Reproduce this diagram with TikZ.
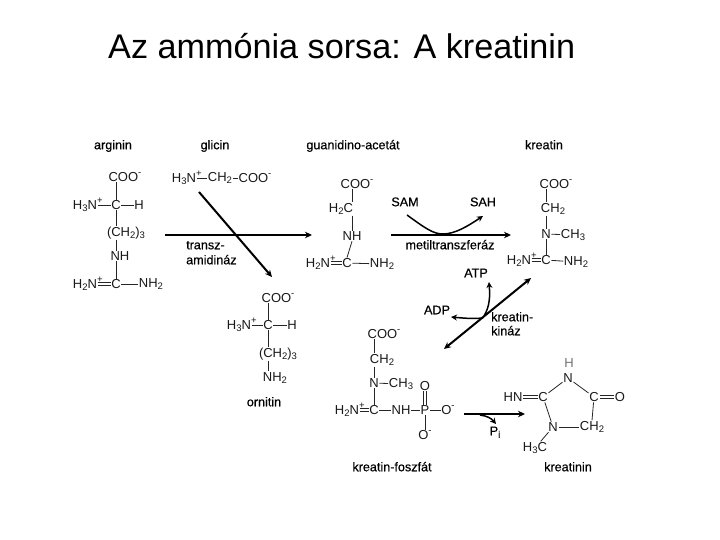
\documentclass[tikz,border=0pt]{standalone}
\usepackage{fontspec}
\setmainfont{Liberation Sans}
\newfontfamily\lblfont[FakeBold=0.5]{Liberation Sans}
\usetikzlibrary{arrows.meta}
\newcommand{\sbs}[1]{\raisebox{-2.5pt}{\fontsize{9.5}{9.5}\selectfont #1}}
\newcommand{\pls}{\rlap{\raisebox{6pt}{\fontsize{9.5}{9.5}\selectfont +}}}
\newcommand{\mns}{\raisebox{6pt}{\fontsize{9.5}{9.5}\selectfont -}}
\tikzset{
  atom/.style={inner sep=0.6pt,font=\fontsize{13}{13}\selectfont,text=black!90},
  lbl/.style={inner sep=0pt,text height=9.5pt,text depth=3pt,font=\lblfont\fontsize{12.6}{14}\selectfont},
  bond/.style={line width=0.8pt,black!85},
  dbl/.style={double=white,double distance=2.2pt,line width=0.7pt,black!85},
  rxn/.style={line width=2pt,-{Stealth[length=7pt,width=6.5pt]}},
  rxnb/.style={line width=2pt,{Stealth[length=7pt,width=6.5pt]}-{Stealth[length=7pt,width=6.5pt]}},
  rxnl/.style={line width=1.5pt,-{Stealth[length=6pt,width=6pt]}}
}
\begin{document}
\begin{tikzpicture}[x=1pt,y=-1pt]
\useasboundingbox (0,0) rectangle (720,540);
\fill[white] (0,0) rectangle (720,540);
\node[inner sep=0pt,anchor=west,font=\fontsize{34.2}{36}\selectfont] (title) at (108,46) {Az ammónia sorsa: A kreatinin};
% labels
\node[lbl] (l1) at (113,146) {arginin};
\node[lbl] (l2) at (215,146) {glicin};
\node[lbl] (l3) at (353,146) {guanidino-acetát};
\node[lbl] (l4) at (544,146) {kreatin};
\node[lbl,anchor=west] (l5) at (186,246) {transz-};
\node[lbl,anchor=west] (l6) at (186,261) {amidináz};
\node[lbl] (l7) at (405,203) {SAM};
\node[lbl] (l8) at (483,203) {SAH};
\node[lbl] (l9) at (450,246) {metiltranszferáz};
\node[lbl] (l10) at (476,274) {ATP};
\node[lbl] (l11) at (437,311) {ADP};
\node[lbl,anchor=west] (l12) at (491,318) {kreatin-};
\node[lbl,anchor=west] (l13) at (491,332) {kináz};
\node[lbl] (l14) at (264,403) {ornitin};
\node[lbl] (l15) at (392,468) {kreatin-foszfát};
\node[lbl] (l16) at (568,468) {kreatinin};
\node[lbl] (pi) at (495,432) {P\sbs{i}};
% arginin
\node[atom] (a1) at (125,177) {COO\mns};
\node[atom] (a2) at (85,205) {H\sbs{3}N\pls};
\node[atom] (a3) at (116,205) {C};
\node[atom] (a4) at (139,205) {H};
\node[atom] (a5) at (126,233) {(CH\sbs{2})\sbs{3}};
\node[atom] (a6) at (120,256) {NH};
\node[atom] (a7) at (85,284) {H\sbs{2}N\pls};
\node[atom] (a8) at (116,284) {C};
\node[atom] (a9) at (151,284) {NH\sbs{2}};
\draw[bond] (a3.north) -- (a3.north |- a1.south);
\draw[bond] (a2) -- (a3); \draw[bond] (a3) -- (a4);
\draw[bond] (a3.south) -- (a3.south |- a5.north);
\draw[bond] (a3 |- a5.south) -- (a3 |- a6.north);
\draw[bond] (a3 |- a6.south) -- (a8.north);
\draw[dbl] (a7) -- (a8); \draw[bond] (a8) -- (a9);
% glicin
\node[atom] (g1) at (184,178) {H\sbs{3}N\pls};
\node[atom] (g2) at (220,178) {CH\sbs{2}};
\node[atom] (g3) at (255,178) {COO\mns};
\draw[bond] (g1) -- (g2); \draw[bond] (g2) -- (g3);
% guanidino-acetat
\node[atom] (b1) at (357,184) {COO\mns};
\node[atom] (b2) at (341,209) {H\sbs{2}C};
\node[atom] (b3) at (352,236) {NH};
\node[atom] (b4) at (318,263) {H\sbs{2}N\pls};
\node[atom] (b5) at (347,263) {C};
\node[atom] (b6) at (382,264) {NH\sbs{2}};
\draw[bond] (b3 |- b1.south) -- (b3 |- b2.north);
\draw[bond] (b3 |- b2.south) -- (b3.north);
\draw[bond] (b3.south) -- (b5.north);
\draw[dbl] (b4) -- (b5); \draw[bond] (b5) -- (b6);
% kreatin
\node[atom] (k1) at (556,184) {COO\mns};
\node[atom] (k2) at (553,209) {CH\sbs{2}};
\node[atom] (k3) at (546,234) {N};
\node[atom] (k4) at (573,235) {CH\sbs{3}};
\node[atom] (k5) at (519,260) {H\sbs{2}N\pls};
\node[atom] (k6) at (546,260) {C};
\node[atom] (k7) at (576,262) {NH\sbs{2}};
\draw[bond] (k3 |- k1.south) -- (k3 |- k2.north);
\draw[bond] (k3 |- k2.south) -- (k3.north);
\draw[bond] (k3) -- (k4); \draw[bond] (k3) -- (k6);
\draw[dbl] (k5) -- (k6); \draw[bond] (k6) -- (k7);
% ornitin
\node[atom] (o1) at (278,298) {COO\mns};
\node[atom] (o2) at (239,325) {H\sbs{3}N\pls};
\node[atom] (o3) at (268,325) {C};
\node[atom] (o4) at (292,325) {H};
\node[atom] (o5) at (278,354) {(CH\sbs{2})\sbs{3}};
\node[atom] (o6) at (275,378) {NH\sbs{2}};
\draw[bond] (o3.north) -- (o3.north |- o1.south);
\draw[bond] (o2) -- (o3); \draw[bond] (o3) -- (o4);
\draw[bond] (o3.south) -- (o3.south |- o5.north);
\draw[bond] (o3 |- o5.south) -- (o3 |- o6.north);
% kreatin-foszfat
\node[atom] (p1) at (384,334) {COO\mns};
\node[atom] (p2) at (382,360) {CH\sbs{2}};
\node[atom] (p3) at (374,383) {N};
\node[atom] (p4) at (401,384) {CH\sbs{3}};
\node[atom] (p5) at (425,386) {O};
\node[atom] (p6) at (347,410) {H\sbs{2}N\pls};
\node[atom] (p7) at (374,410) {C};
\node[atom] (p8) at (401,410) {NH};
\node[atom] (p9) at (425,410) {P};
\node[atom] (p10) at (448,410) {O\mns};
\node[atom] (p11) at (425,435) {O\mns};
\draw[bond] (p3 |- p1.south) -- (p3 |- p2.north);
\draw[bond] (p3 |- p2.south) -- (p3.north);
\draw[bond] (p3) -- (p4); \draw[bond] (p3) -- (p7);
\draw[dbl] (p6) -- (p7); \draw[bond] (p7) -- (p8); \draw[bond] (p8) -- (p9);
\draw[dbl] (p9) -- (p5); \draw[bond] (p9) -- (p10); \draw[bond] (p9) -- (p9 |- p11.north);
% kreatinin
\node[atom,text=black!55] (r1) at (569,363) {H};
\node[atom] (r2) at (568,378) {N};
\node[atom] (r3) at (513,397) {HN};
\node[atom] (r4) at (543,397) {C};
\node[atom] (r5) at (594,397) {C};
\node[atom] (r6) at (620,397) {O};
\node[atom] (r7) at (553,427) {N};
\node[atom] (r8) at (592,427) {CH\sbs{2}};
\node[atom] (r9) at (535,448) {H\sbs{3}C};
\draw[bond] (r2) -- (r4); \draw[bond] (r2) -- (r5);
\draw[dbl] (r3) -- (r4); \draw[dbl] (r5) -- (r6);
\draw[bond] (r4) -- (r7); \draw[bond] (r7) -- (r8);
\draw[bond] (r5) -- (r8.north); \draw[bond] (r7) -- (r9);
% reaction arrows
\coordinate (c1) at (199,192); \coordinate (c2) at (272,277);
\coordinate (c3) at (165,235); \coordinate (c4) at (312,235);
\coordinate (c5) at (391,235); \coordinate (c6) at (511,235);
\coordinate (c7) at (407,215); \coordinate (c8) at (443,234); \coordinate (c9) at (483,216);
\coordinate (c10) at (444,349); \coordinate (c11) at (531,278);
\coordinate (c12) at (484,316); \coordinate (c13) at (489,282);
\coordinate (c14) at (483,318); \coordinate (c15) at (451,317);
\coordinate (c16) at (464,414); \coordinate (c17) at (525,414);
\coordinate (c18) at (480,415); \coordinate (c19) at (496,424);
\draw[rxn] (c1) -- (c2);
\draw[rxn] (c3) -- (c4);
\draw[rxn] (c5) -- (c6);
\draw[rxnl] (c7) .. controls (425,228) and (433,234) .. (c8) .. controls (455,234) and (468,226) .. (c9);
\draw[rxnb] (c10) -- (c11);
\draw[rxnl] (c12) .. controls (490,306) and (490,296) .. (c13);
\draw[rxnl] (c14) .. controls (472,319) and (462,318) .. (c15);
\draw[rxn] (c16) -- (c17);
\draw[rxnl] (c18) .. controls (487,416) and (491,418) .. (c19);
\end{tikzpicture}
\end{document}
